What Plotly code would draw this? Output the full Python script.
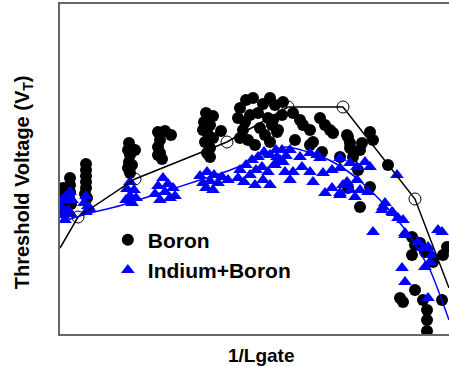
import plotly.graph_objects as go

# Boron-implanted devices: 1/Lgate (um^-1) vs threshold voltage (V)
boron_x = [0.03, 0.03, 0.03, 0.03, 0.04, 0.02,
           0.10, 0.10, 0.10, 0.09, 0.11,
           0.26, 0.26, 0.26, 0.26, 0.26, 0.25, 0.27,
           0.69, 0.68, 0.70, 0.75, 0.69, 0.68, 0.70, 0.72,
           0.98, 1.05, 1.11, 1.00, 0.98, 1.00, 1.02, 0.98,
           1.46, 1.53, 1.44, 1.50, 1.47, 1.53, 1.45, 1.50, 1.47, 1.50, 1.61, 1.43,
           1.80, 1.86, 1.93, 1.78, 1.85, 1.90, 1.83, 1.80, 1.88, 1.95, 2.00, 1.98,
           2.03, 2.10, 2.15, 2.08, 2.12, 2.05, 2.10, 2.18, 2.22,
           2.23, 2.33, 2.13, 2.17, 2.43, 2.50, 2.60, 2.53, 2.73, 2.88, 2.80, 2.90,
           2.62, 2.40, 2.35, 2.50, 2.65, 2.70,
           2.87, 2.90, 3.02, 3.10, 3.13, 2.93, 3.00, 2.98, 3.10, 3.00, 3.28, 2.88,
           3.52, 3.55, 3.60, 3.52, 3.65, 3.83, 3.73, 3.87, 3.55, 3.40, 3.43, 3.63,
           3.82, 3.67, 3.67, 3.67]
boron_vt = [0.292, 0.278, 0.264, 0.252, 0.242, 0.270,
            0.312, 0.298, 0.284, 0.272, 0.260,
            0.340, 0.328, 0.316, 0.304, 0.292, 0.280, 0.272,
            0.382, 0.368, 0.358, 0.368, 0.344, 0.332, 0.322, 0.338,
            0.404, 0.406, 0.398, 0.388, 0.374, 0.362, 0.350, 0.358,
            0.442, 0.436, 0.424, 0.418, 0.404, 0.392, 0.384, 0.372, 0.362, 0.354, 0.406, 0.408,
            0.452, 0.468, 0.472, 0.432, 0.424, 0.438, 0.408, 0.392, 0.388, 0.378, 0.412, 0.442,
            0.460, 0.472, 0.458, 0.432, 0.418, 0.398, 0.384, 0.408, 0.438,
            0.464, 0.442, 0.428, 0.404, 0.418, 0.408, 0.432, 0.384, 0.402, 0.394, 0.354, 0.372,
            0.364, 0.428, 0.388, 0.378, 0.418, 0.408,
            0.398, 0.382, 0.382, 0.404, 0.388, 0.354, 0.368, 0.328, 0.294, 0.254, 0.338, 0.292,
            0.194, 0.178, 0.182, 0.158, 0.164, 0.158, 0.144, 0.174, 0.088, 0.072, 0.064, 0.068,
            0.068, 0.048, 0.028, 0.006]

# Indium+Boron devices
indium_x = [0.02, 0.02, 0.03, 0.06, 0.10, 0.12, 0.08, 0.05, 0.11,
            0.26, 0.24, 0.28, 0.26, 0.30,
            0.70, 0.67, 0.74, 0.70, 0.66, 0.76, 0.72,
            1.03, 0.98, 1.08, 1.13, 0.95, 1.05, 1.10, 1.00, 1.15,
            1.40, 1.47, 1.54, 1.62, 1.43, 1.50, 1.58, 1.46, 1.53, 1.68,
            1.80, 1.86, 1.92, 1.98, 2.04, 2.10, 2.16, 2.22, 1.78, 1.84, 1.90, 1.96,
            2.02, 2.08, 2.14, 2.20, 2.26, 2.03, 1.95, 2.10,
            2.17, 2.30, 2.40, 2.50, 2.57, 2.60, 2.23, 2.25, 2.33, 2.42, 2.50, 2.30,
            2.53, 2.63, 2.72, 2.80, 2.90, 2.65, 2.72, 2.80, 2.90, 2.15,
            2.80, 2.97, 3.05, 3.10, 2.87, 2.97, 3.00, 2.95, 3.08, 3.37, 3.25, 3.22,
            3.32, 3.38, 3.45, 3.13, 2.83, 2.80,
            3.45, 3.58, 3.63, 3.68, 3.65, 3.70, 3.72, 3.42, 3.45, 3.68, 3.78, 3.82,
            3.23, 3.33, 3.43]
indium_vt = [0.268, 0.252, 0.238, 0.276, 0.284, 0.268, 0.248, 0.228, 0.240,
             0.276, 0.262, 0.256, 0.244, 0.250,
             0.304, 0.290, 0.288, 0.276, 0.268, 0.272, 0.262,
             0.312, 0.296, 0.300, 0.292, 0.280, 0.284, 0.272, 0.268, 0.276,
             0.316, 0.324, 0.318, 0.314, 0.302, 0.306, 0.302, 0.292, 0.288, 0.308,
             0.328, 0.338, 0.348, 0.354, 0.364, 0.358, 0.368, 0.368, 0.312, 0.304, 0.318, 0.328,
             0.334, 0.324, 0.338, 0.348, 0.356, 0.308, 0.298, 0.298,
             0.354, 0.368, 0.354, 0.362, 0.358, 0.352, 0.344, 0.324, 0.324, 0.334, 0.324, 0.308,
             0.304, 0.322, 0.328, 0.352, 0.342, 0.282, 0.292, 0.278, 0.288, 0.338,
             0.332, 0.334, 0.344, 0.334, 0.304, 0.308, 0.288, 0.274, 0.284, 0.318, 0.262, 0.248,
             0.244, 0.232, 0.202, 0.204, 0.298, 0.282,
             0.198, 0.184, 0.172, 0.174, 0.134, 0.144, 0.158, 0.132, 0.104, 0.072, 0.208, 0.204,
             0.254, 0.242, 0.228]

# Boron model curve and its fitted nodes
boron_fit_x = [0.00, 0.18, 0.75, 1.67, 2.28, 2.83, 3.55, 3.89]
boron_fit_vt = [0.172, 0.234, 0.310, 0.384, 0.454, 0.454, 0.270, 0.092]
node_x = [0.18, 0.75, 1.67, 2.28, 2.83, 3.55]
node_vt = [0.234, 0.310, 0.384, 0.454, 0.454, 0.270]

# Indium+Boron model curve
indium_fit_x = [0.00, 0.30, 0.55, 1.00, 1.40, 1.65, 1.90, 2.10, 2.27,
                2.60, 2.80, 3.00, 3.20, 3.47, 3.70, 3.89]
indium_fit_vt = [0.224, 0.242, 0.254, 0.282, 0.308, 0.324, 0.344, 0.362, 0.374,
                 0.356, 0.336, 0.306, 0.268, 0.204, 0.128, 0.028]

BLUE = "#0000ff"
FONT = "Liberation Sans, Arial, sans-serif"

fig = go.Figure()
fig.add_trace(go.Scatter(
    x=boron_x, y=boron_vt, mode="markers", name="Boron",
    marker=dict(symbol="circle", size=12, color="black", line=dict(width=0))))
fig.add_trace(go.Scatter(
    x=indium_x, y=indium_vt, mode="markers", name="Indium+Boron",
    marker=dict(symbol="triangle-up", size=12, color=BLUE, line=dict(width=0))))
fig.add_trace(go.Scatter(
    x=boron_fit_x, y=boron_fit_vt, mode="lines", showlegend=False,
    line=dict(color="black", width=1.5)))
fig.add_trace(go.Scatter(
    x=indium_fit_x, y=indium_fit_vt, mode="lines", showlegend=False,
    line=dict(color=BLUE, width=1.5, shape="spline", smoothing=0.6)))
fig.add_trace(go.Scatter(
    x=node_x, y=node_vt, mode="markers", showlegend=False,
    marker=dict(symbol="circle-open", size=12, color="black", line=dict(width=1))))

fig.update_layout(
    width=449, height=366,
    margin=dict(l=60, r=0, t=4, b=32),
    paper_bgcolor="white", plot_bgcolor="white",
    font=dict(family=FONT, color="black"),
    legend=dict(x=0.123, y=0.347, xanchor="left", yanchor="top",
                bgcolor="rgba(0,0,0,0)", itemsizing="constant",
                font=dict(family=FONT, size=21, weight="bold", color="black")),
    annotations=[
        dict(text="1/Lgate", xref="paper", yref="paper", x=0.519, y=-0.065,
             xanchor="center", yanchor="middle", showarrow=False,
             font=dict(family=FONT, size=19, weight="bold")),
        dict(text="Threshold Voltage (V<sub>T</sub>)", xref="paper", yref="paper",
             x=-0.095, y=0.46, xanchor="center", yanchor="middle", textangle=-90,
             showarrow=False, font=dict(family=FONT, size=20, weight="bold")),
    ],
)
fig.update_xaxes(range=[0, 3.89], showline=True, mirror=True, linecolor="#666666",
                 linewidth=1.5, showgrid=False, zeroline=False, showticklabels=False,
                 ticks="")
fig.update_yaxes(range=[0, 0.66], showline=True, mirror=False, linecolor="#666666",
                 linewidth=1.5, showgrid=False, zeroline=False, showticklabels=False,
                 ticks="")

fig.write_html("out.html")
